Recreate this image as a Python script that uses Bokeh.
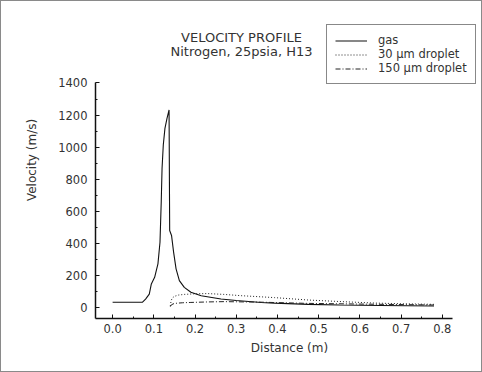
from bokeh.plotting import figure
from bokeh.models import Range1d, FixedTicker, Label, Legend, LegendItem
from bokeh.embed import file_html
from bokeh.resources import INLINE

# ---- data ----
gas_x = [0.0, 0.072, 0.080, 0.089, 0.094, 0.102, 0.110, 0.115, 0.118, 0.120,
         0.123, 0.127, 0.132, 0.137, 0.1385, 0.143, 0.148, 0.154, 0.162, 0.174,
         0.190, 0.215, 0.263, 0.300, 0.361, 0.393, 0.475, 0.55, 0.65, 0.78]
gas_v = [35, 35, 55, 86, 149, 190, 274, 409, 659, 867,
         1014, 1117, 1180, 1232, 482, 451, 347, 243, 170, 128,
         97, 76, 55, 46, 34, 30, 22, 18, 15, 12]

d30_x = [0.140, 0.142, 0.145, 0.150, 0.160, 0.174, 0.200, 0.231, 0.270, 0.312,
         0.393, 0.475, 0.556, 0.637, 0.700, 0.780]
d30_v = [12, 45, 62, 72, 80, 84, 88, 89, 84, 76, 64, 49, 39, 30, 26, 22]

d150_x = [0.140, 0.143, 0.150, 0.170, 0.190, 0.230, 0.271, 0.353, 0.475, 0.597, 0.780]
d150_v = [8, 20, 28, 32, 34, 37, 39, 36, 28, 24, 18]

x_ticks = [0.0, 0.1, 0.2, 0.3, 0.4, 0.5, 0.6, 0.7, 0.8]
x_minor = [0.05, 0.15, 0.25, 0.35, 0.45, 0.55, 0.65, 0.75]
y_ticks = [0, 200, 400, 600, 800, 1000, 1200, 1400]
y_minor = [100, 300, 500, 700, 900, 1100, 1300]

title1 = "VELOCITY PROFILE"
title2 = "Nitrogen, 25psia, H13"
legend_labels = ["gas", "30 μm droplet", "150 μm droplet"]

FONT = "DejaVu Sans"
TXT = "#333333"

# The frame spans the whole upper/right area so that the title and legend
# (drawn inside it) are not clipped; the axes are limited with `bounds`.
p = figure(width=482, height=372, output_backend="svg", toolbar_location=None,
           x_range=Range1d(-0.0415, 0.900), y_range=Range1d(-66, 1907),
           min_border_left=94, min_border_right=0, min_border_top=0,
           min_border_bottom=55)
p.outline_line_color = None
p.grid.visible = False
p.background_fill_color = "white"
p.border_fill_color = "white"
p.styles = {"box-sizing": "border-box", "border": "1px solid #8a8a8a"}

for ax in (p.xaxis[0], p.yaxis[0]):
    ax.axis_line_color = "#111111"
    ax.axis_line_width = 1.5
    ax.major_tick_in = 4
    ax.major_tick_out = 0
    ax.minor_tick_in = 2
    ax.minor_tick_out = 0
    ax.major_tick_line_color = "#111111"
    ax.minor_tick_line_color = "#111111"
    ax.major_label_text_font = FONT
    ax.major_label_text_font_size = "11.5px"
    ax.major_label_text_color = TXT
    ax.axis_label_text_font = FONT
    ax.axis_label_text_font_size = "12px"
    ax.axis_label_text_font_style = "normal"
    ax.axis_label_text_color = TXT

p.xaxis.bounds = (-0.0415, 0.824)
p.yaxis.bounds = (-66, 1405)
p.xaxis.ticker = FixedTicker(ticks=x_ticks, minor_ticks=x_minor)
p.yaxis.ticker = FixedTicker(ticks=y_ticks, minor_ticks=y_minor)
p.xaxis.major_label_overrides = {t: f"{t:.1f}" for t in x_ticks}
p.xaxis.major_label_standoff = 5
p.yaxis.major_label_standoff = 8
p.xaxis.axis_label = "Distance (m)"
p.yaxis.axis_label = "Velocity (m/s)"
p.xaxis.axis_label_standoff = 5
p.yaxis.axis_label_standoff = 16

r_gas = p.line(gas_x, gas_v, line_color="#111111", line_width=1.1)
r_30 = p.line(d30_x, d30_v, line_color="#222222", line_width=1, line_dash="1 2")
r_150 = p.line(d150_x, d150_v, line_color="#222222", line_width=1, line_dash="5 2 1 2")

legend = Legend(items=[LegendItem(label=legend_labels[0], renderers=[r_gas]),
                       LegendItem(label=legend_labels[1], renderers=[r_30]),
                       LegendItem(label=legend_labels[2], renderers=[r_150])],
                location=(231, 234), padding=8, spacing=0,
                glyph_width=32, glyph_height=13, label_height=13,
                label_standoff=11, margin=0,
                label_text_font=FONT, label_text_font_size="11.5px",
                label_text_color=TXT, border_line_color="#111111",
                border_line_width=1, background_fill_color="white",
                background_fill_alpha=1.0)
p.add_layout(legend)

for txt, yy in ((title1, 281), (title2, 267)):
    p.add_layout(Label(x=146, y=yy, x_units="screen", y_units="screen",
                       text=txt, text_align="center", text_baseline="middle",
                       text_font=FONT, text_font_size="13px", text_color=TXT))

open("out.html", "w").write(file_html(p, INLINE))
